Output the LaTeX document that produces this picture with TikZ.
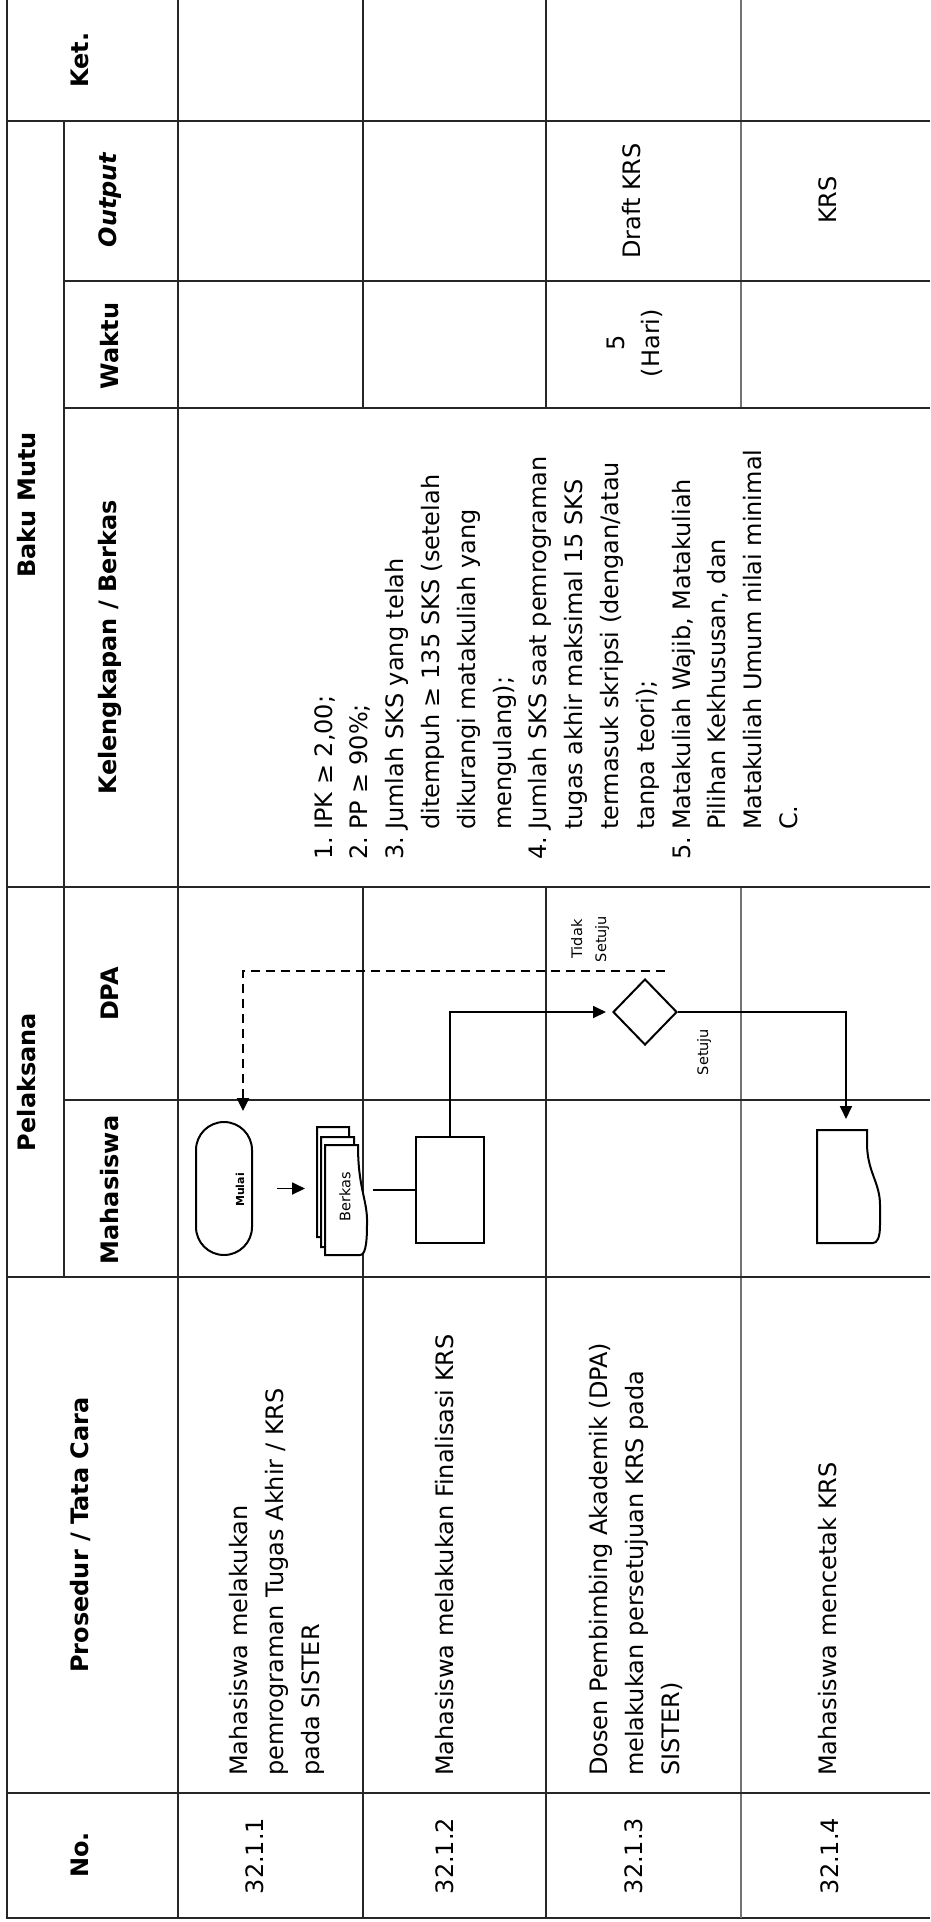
\documentclass[tikz,border=0pt]{standalone}
\usepackage{fontspec}
\setmainfont{DejaVu Sans}
\usetikzlibrary{arrows.meta,shapes.geometric}
\newlength\lblw
\setlength\lblw{30pt}
\begin{document}
\begin{tikzpicture}[x=1pt,y=-1pt,
  grid/.style={line width=1.8pt, draw=black!85},
  lgrid/.style={line width=1.4pt, draw=black!55},
  hdr/.style={font=\fontsize{24}{30}\selectfont\bfseries, rotate=90, inner sep=0pt},
  body/.style={font=\fontsize{24}{36}\selectfont, rotate=90, inner sep=0pt, align=left},
  cbody/.style={font=\fontsize{24}{35}\selectfont, rotate=90, inner sep=0pt, align=center},
  small/.style={font=\fontsize{14.5}{24}\selectfont, rotate=90, inner sep=0pt, align=center},
  fshape/.style={draw=black, line width=2pt, fill=white},
  ghost/.style={inner sep=0pt, outer sep=0pt},
  conn/.style={line width=1.8pt, draw=black},
  arr/.style={conn, -{Triangle[length=13pt,width=12pt]}},
  darr/.style={line width=2.4pt, dash pattern=on 9pt off 6pt, -{Triangle[length=13pt,width=12pt]}},
]
\useasboundingbox (0,0) rectangle (930,1922);
\fill[white] (0,0) rectangle (930,1922);

% ---------- table grid ----------
\draw[grid] (7,0) -- (7,1918) -- (930,1918);
\draw[grid] (64,121) -- (64,1277);
\draw[grid] (178,0) -- (178,1918);
\draw[grid] (363,0) -- (363,408) (363,887) -- (363,1918);
\draw[grid] (546,0) -- (546,408) (546,887) -- (546,1918);
\draw[lgrid] (741,0) -- (741,408) (741,887) -- (741,1918);
\draw[grid] (7,121) -- (930,121);
\draw[grid] (64,281) -- (930,281);
\draw[grid] (64,408) -- (930,408);
\draw[grid] (7,887) -- (930,887);
\draw[grid] (64,1100) -- (930,1100);
\draw[grid] (7,1277) -- (930,1277);
\draw[grid] (7,1793) -- (930,1793);

% ---------- headers ----------
\node[hdr] (ket) at (80,60) {Ket.};
\node[hdr, font=\fontsize{24}{30}\selectfont\bfseries\itshape] (out) at (110,200) {Output};
\node[hdr] (wak) at (110,346) {Waktu};
\node[hdr] (bm) at (27,505) {Baku Mutu};
\node[hdr] (kb) at (110,647) {Kelengkapan / Berkas};
\node[hdr] (pel) at (27,1082) {Pelaksana};
\node[hdr] (dpa) at (110,994) {DPA};
\node[hdr] (mhs) at (110,1190) {Mahasiswa};
\node[hdr] (ptc) at (80,1535) {Prosedur / Tata Cara};
\node[hdr] (no) at (80,1855) {No.};

% ---------- numbers ----------
\node[cbody] (n1) at (255,1856) {32.1.1};
\node[cbody] (n2) at (445,1856) {32.1.2};
\node[cbody] (n3) at (634,1856) {32.1.3};
\node[cbody] (n4) at (830,1856) {32.1.4};

% ---------- procedures ----------
\node[body, anchor=west] (p1) at (277,1776) {Mahasiswa melakukan\\pemrograman Tugas Akhir / KRS\\pada SISTER};
\node[body, anchor=west] (p2) at (445,1776) {Mahasiswa melakukan Finalisasi KRS};
\node[body, anchor=west] (p3) at (636,1776) {Dosen Pembimbing Akademik (DPA)\\melakukan persetujuan KRS pada\\SISTER)};
\node[body, anchor=west] (p4) at (828,1776) {Mahasiswa mencetak KRS};

% ---------- kelengkapan ----------
\node[body, anchor=west, font=\fontsize{24}{35.8}\selectfont] (kel) at (556,860) {%
\makebox[\lblw][l]{1.}IPK ≥ 2,00;\\
\makebox[\lblw][l]{2.}PP ≥ 90\%;\\
\makebox[\lblw][l]{3.}Jumlah SKS yang telah\\
\hspace*{\lblw}ditempuh ≥ 135 SKS (setelah\\
\hspace*{\lblw}dikurangi matakuliah yang\\
\hspace*{\lblw}mengulang);\\
\makebox[\lblw][l]{4.}Jumlah SKS saat pemrograman\\
\hspace*{\lblw}tugas akhir maksimal 15 SKS\\
\hspace*{\lblw}termasuk skripsi (dengan/atau\\
\hspace*{\lblw}tanpa teori);\\
\makebox[\lblw][l]{5.}Matakuliah Wajib, Matakuliah\\
\hspace*{\lblw}Pilihan Kekhususan, dan\\
\hspace*{\lblw}Matakuliah Umum nilai minimal\\
\hspace*{\lblw}C.};

% ---------- waktu / output ----------
\node[cbody] (w3) at (635,343) {5\\(Hari)};
\node[cbody] (o3) at (632,201) {Draft KRS};
\node[cbody] (o4) at (828,200) {KRS};

% ---------- flowchart ----------
\node[fshape, rounded corners=28pt, minimum width=56pt, minimum height=133pt, inner sep=0pt] (mulai) at (224,1188.5) {};
\node[small, font=\fontsize{11}{13}\selectfont\bfseries] (mulaiT) at (240,1190) {Mulai};

% Berkas (multi document)
\node[ghost, minimum width=32pt, minimum height=110pt] (bk3) at (333,1182) {};
\node[ghost, minimum width=33pt, minimum height=110pt] (bk2) at (337.5,1192) {};
\node[ghost, minimum width=42pt, minimum height=110pt] (berkas) at (346,1200) {};
\draw[fshape] (317,1127) -- (349,1127) .. controls (349,1172) and (359,1182) .. (358,1207) .. controls (358,1227) and (356,1237) .. (351,1237) -- (317,1237) -- cycle;
\draw[fshape] (321,1137) -- (354,1137) .. controls (354,1182) and (364,1192) .. (363,1217) .. controls (363,1237) and (361,1247) .. (356,1247) -- (321,1247) -- cycle;
\draw[fshape] (325,1145) -- (358,1145) .. controls (358,1190) and (368,1200) .. (367,1225) .. controls (367,1245) and (365,1255) .. (360,1255) -- (325,1255) -- cycle;
\node[small] (berkasT) at (345,1197) {Berkas};

\node[fshape, minimum width=68pt, minimum height=106pt, inner sep=0pt] (proc) at (450,1190) {};
\node[fshape, diamond, minimum width=64pt, minimum height=66pt, inner sep=0pt] (dia) at (645,1012) {};

\node[ghost, minimum width=58pt, minimum height=113pt] (krs) at (846,1186.5) {};
\draw[fshape] (817,1130) -- (867,1130) -- (867,1143) .. controls (867,1172) and (880,1182) .. (880,1205) -- (880,1225) .. controls (880,1238) and (877,1243) .. (873,1243) -- (817,1243) -- cycle;

% labels
\node[small] (tsT) at (590,939) {Tidak\\Setuju};
\node[small] (sT) at (704,1052) {Setuju};

% connectors
\draw[arr, shorten <=24pt, shorten >=12pt] (mulai.east) -- (mulai.east -| bk3.west);
\draw[conn, shorten <=6pt] (proc.west -| berkas.east) -- (proc.west);
\draw[arr, shorten >=6pt] (proc.north) |- (dia.west);
\draw[arr, shorten >=11pt] (dia.east) -| (krs.north);
\coordinate (ts) at (665,971);
\draw[darr, shorten >=10pt] (ts) -| ([xshift=19pt]mulai.north);
\end{tikzpicture}
\end{document}
